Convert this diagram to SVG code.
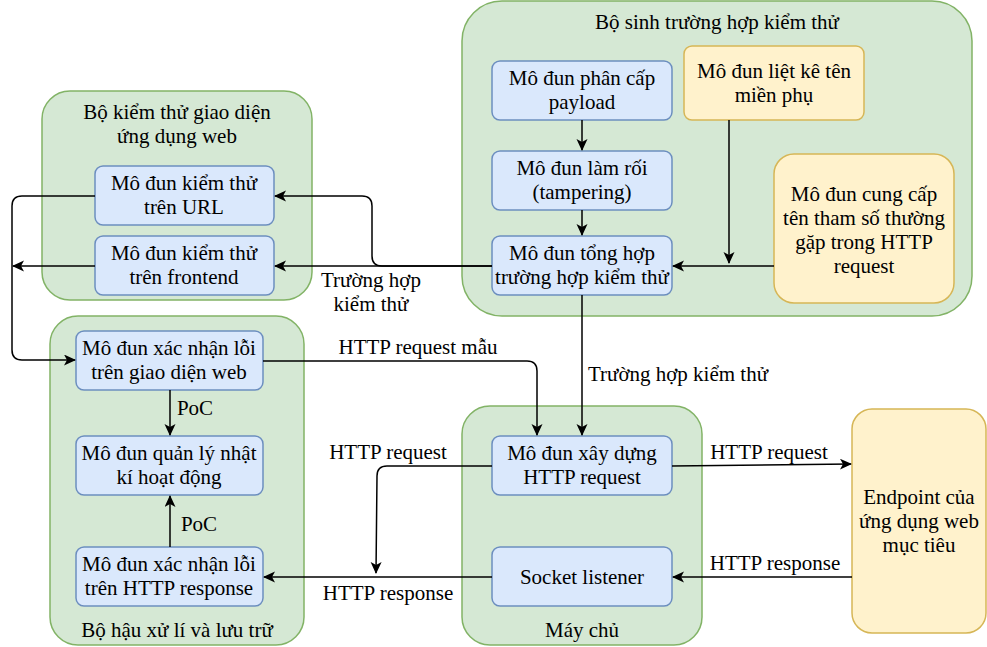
<svg xmlns="http://www.w3.org/2000/svg" width="987" height="647" viewBox="0 0 987 647">
<defs>
<style>
text{font-family:"Liberation Serif","Times New Roman",serif;font-size:21px;fill:#000;text-anchor:middle}
.grp{fill:#d5e8d4;stroke:#82b366;stroke-width:1.5}
.blue{fill:#dae8fc;stroke:#6c8ebf;stroke-width:1.5}
.yel{fill:#fff2cc;stroke:#d6b656;stroke-width:1.5}
.c{fill:none;stroke:#000;stroke-width:1.5}
.a{marker-end:url(#arr)}
</style>
<marker id="arr" markerUnits="userSpaceOnUse" markerWidth="14" markerHeight="12" refX="11" refY="5.5" orient="auto">
<path d="M0,0 L12,5.5 L0,11 L3,5.5 Z" fill="#000"/>
</marker>
</defs>
<rect width="987" height="647" fill="#fff"/>

<g id="grp-sinh"><rect class="grp" x="462" y="1" width="510" height="315" rx="40"/><text x="717" y="29">Bộ sinh trường hợp kiểm thử</text></g>
<g id="grp-giaodien"><rect class="grp" x="42" y="91" width="270" height="209" rx="28"/><text x="177" y="119">Bộ kiểm thử giao diện</text><text x="177" y="143">ứng dụng web</text></g>
<g id="grp-hauxuli"><rect class="grp" x="50" y="316" width="254" height="329" rx="28"/><text x="177" y="637">Bộ hậu xử lí và lưu trữ</text></g>
<g id="grp-maychu"><rect class="grp" x="462" y="406" width="240" height="239" rx="28"/><text x="582" y="637">Máy chủ</text></g>

<g id="endpoint"><rect class="yel" x="852" y="409" width="134" height="224" rx="20"/><text x="919" y="504">Endpoint của</text><text x="919" y="528">ứng dụng web</text><text x="919" y="552">mục tiêu</text></g>

<g id="phancap"><rect class="blue" x="492" y="61" width="180" height="59" rx="8"/><text x="582" y="85">Mô đun phân cấp</text><text x="582" y="109">payload</text></g>
<g id="lamroi"><rect class="blue" x="492" y="151" width="180" height="59" rx="8"/><text x="582" y="175">Mô đun làm rối</text><text x="582" y="199">(tampering)</text></g>
<g id="tonghop"><rect class="blue" x="492" y="236" width="180" height="59" rx="8"/><text x="582" y="260">Mô đun tổng hợp</text><text x="582" y="284">trường hợp kiểm thử</text></g>
<g id="lietke"><rect class="yel" x="684" y="46" width="180" height="74" rx="8"/><text x="774" y="78">Mô đun liệt kê tên</text><text x="774" y="102">miền phụ</text></g>
<g id="cungcap"><rect class="yel" x="774" y="154" width="180" height="149" rx="20"/><text x="864" y="201">Mô đun cung cấp</text><text x="864" y="225">tên tham số thường</text><text x="864" y="249">gặp trong HTTP</text><text x="864" y="273">request</text></g>
<g id="url"><rect class="blue" x="95" y="166" width="179" height="59" rx="8"/><text x="184" y="190">Mô đun kiểm thử</text><text x="184" y="214">trên URL</text></g>
<g id="frontend"><rect class="blue" x="95" y="236" width="179" height="59" rx="8"/><text x="184" y="260">Mô đun kiểm thử</text><text x="184" y="284">trên frontend</text></g>
<g id="xacnhanweb"><rect class="blue" x="76" y="331" width="187" height="59" rx="8"/><text x="169" y="355">Mô đun xác nhận lỗi</text><text x="169" y="379">trên giao diện web</text></g>
<g id="nhatki"><rect class="blue" x="76" y="436" width="187" height="59" rx="8"/><text x="169" y="460">Mô đun quản lý nhật</text><text x="169" y="484">kí hoạt động</text></g>
<g id="xacnhanhttp"><rect class="blue" x="76" y="547" width="187" height="59" rx="8"/><text x="169" y="571">Mô đun xác nhận lỗi</text><text x="169" y="595">trên HTTP response</text></g>
<g id="xaydung"><rect class="blue" x="492" y="436" width="180" height="59" rx="8"/><text x="582" y="460">Mô đun xây dựng</text><text x="582" y="484">HTTP request</text></g>
<g id="socket"><rect class="blue" x="492" y="547" width="180" height="59" rx="8"/><text x="582" y="584">Socket listener</text></g>

<g id="connectors">
<path class="c a" d="M582,120 L582,150"/>
<path class="c a" d="M582,210 L582,235"/>
<path class="c a" d="M729,120 L729,263"/>
<path class="c a" d="M774,266 L673,266"/>
<path class="c a" d="M492,266 L275,266"/>
<path class="c a" d="M492,266 L382,266 Q372,266 372,256 L372,206 Q372,196 362,196 L275,196"/>
<path class="c a" d="M95,196 L22,196 Q12,196 12,206 L12,350 Q12,360 22,360 L75,360"/>
<path class="c a" d="M95,266 L13,266"/>
<path class="c a" d="M582,295 L582,435"/>
<path class="c a" d="M263,361 L527,361 Q537,361 537,371 L537,435"/>
<path class="c a" d="M492,466 L387,466 Q377,466 377,476 L376,573"/>
<path class="c a" d="M492,577 L264,577"/>
<path class="c a" d="M672,466 L851,464"/>
<path class="c a" d="M852,577 L673,577"/>
<path class="c a" d="M170,390 L170,435"/>
<path class="c a" d="M170,547 L170,496"/>
<text x="371" y="287">Trường hợp</text>
<text x="371" y="311">kiểm thử</text>
<text x="678" y="381">Trường hợp kiểm thử</text>
<text x="418" y="354">HTTP request mẫu</text>
<text x="388" y="459">HTTP request</text>
<text x="388" y="600">HTTP response</text>
<text x="769" y="459">HTTP request</text>
<text x="775" y="570">HTTP response</text>
<text x="195" y="415">PoC</text>
<text x="199" y="531">PoC</text>
</g>
</svg>
